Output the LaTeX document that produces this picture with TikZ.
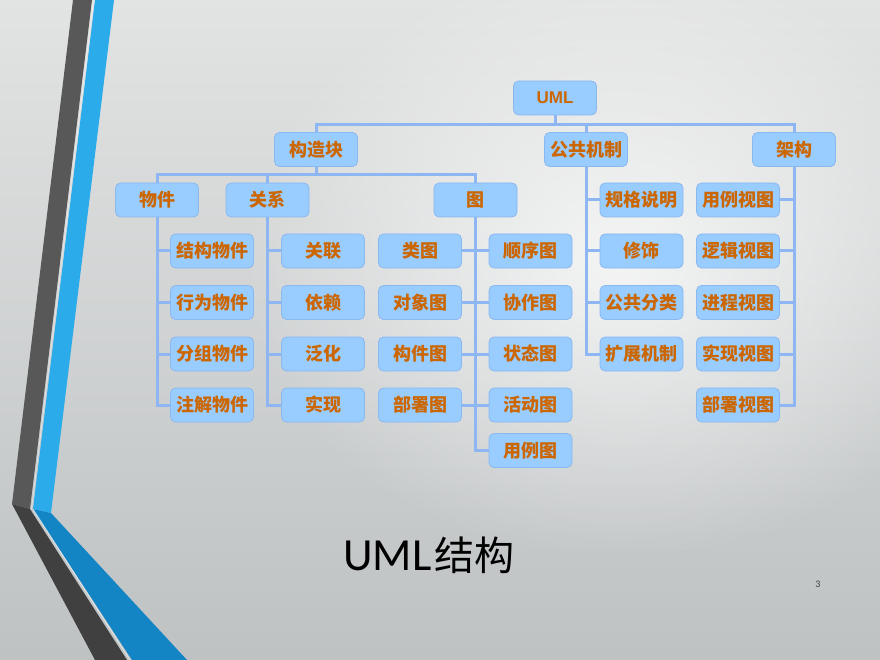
\documentclass[tikz,border=0pt]{standalone}
\usepackage{fontspec}
\setmainfont{Liberation Sans}
\newfontfamily\cjk{Noto Sans CJK SC}
\newfontfamily\carl{Carlito}
\usetikzlibrary{fadings}
\definecolor{boxfill}{RGB}{153,204,255}
\definecolor{boxdraw}{RGB}{138,184,240}
\definecolor{conncol}{RGB}{141,182,243}
\definecolor{txtcol}{RGB}{204,102,0}
\definecolor{bgtop}{RGB}{226,227,227}
\definecolor{bgbot}{RGB}{190,194,195}
\definecolor{darkA}{RGB}{88,88,88}
\definecolor{darkB}{RGB}{64,64,64}
\definecolor{blueA}{RGB}{44,171,235}
\definecolor{blueB}{RGB}{20,133,196}
\tikzfading[name=softglow, inner color=transparent!0, outer color=transparent!100]
\tikzset{
  box/.style={draw=boxdraw, line width=0.8pt, fill=boxfill, rounded corners=5pt,
    minimum width=83pt, minimum height=34pt, inner sep=0pt,
    text=txtcol, font=\cjk\bfseries\fontsize{18}{18}\selectfont},
  conn/.style={draw=conncol, line width=3pt},
}
\begin{document}
\begin{tikzpicture}[x=1pt,y=-1pt]
\useasboundingbox (0,0) rectangle (880,660);
% background
\shade[top color=bgtop, bottom color=bgbot] (0,0) rectangle (880,660);
\fill[white, path fading=softglow, fill opacity=0.75] (620,260) ellipse (380 and 300);
% left decoration
\fill[darkA] (73,0) -- (92,0) -- (30,509) -- (12,504) -- cycle;
\fill[darkB] (12,504) -- (30,509) -- (127,660) -- (95,660) -- cycle;
\fill[blueA] (95,0) -- (114,0) -- (51,513) -- (33,509) -- cycle;
\fill[blueB] (33,509) -- (51,513) -- (187,660) -- (132,660) -- cycle;
\draw[white, opacity=0.6, line width=0.8pt] (33,509) -- (130,660);
\draw[white, opacity=0.5, line width=0.6pt] (93.5,0) -- (31.5,509);

% nodes
\node[box, font=\bfseries\fontsize{17}{17}\selectfont] (uml) at (555,98) {UML};
\node[box] (ck) at (316,149.5) {构造块};
\node[box] (gg) at (586,149.5) {公共机制};
\node[box] (jg) at (794,149.5) {架构};

\node[box] (wj) at (157,200) {物件};
\node[box] (gx) at (267.5,200) {关系};
\node[box] (tu) at (475.5,200) {图};

\node[box] (wj1) at (212,251) {结构物件};
\node[box] (wj2) at (212,302.5) {行为物件};
\node[box] (wj3) at (212,354) {分组物件};
\node[box] (wj4) at (212,405) {注解物件};

\node[box] (gx1) at (323,251) {关联};
\node[box] (gx2) at (323,302.5) {依赖};
\node[box] (gx3) at (323,354) {泛化};
\node[box] (gx4) at (323,405) {实现};

\node[box] (tl1) at (420,251) {类图};
\node[box] (tl2) at (420,302.5) {对象图};
\node[box] (tl3) at (420,354) {构件图};
\node[box] (tl4) at (420,405) {部署图};

\node[box] (tr1) at (530.5,251) {顺序图};
\node[box] (tr2) at (530.5,302.5) {协作图};
\node[box] (tr3) at (530.5,354) {状态图};
\node[box] (tr4) at (530.5,405) {活动图};
\node[box] (tr5) at (530.5,450.5) {用例图};

\node[box] (gg1) at (641.5,200) {规格说明};
\node[box] (gg2) at (641.5,251) {修饰};
\node[box] (gg3) at (641.5,302.5) {公共分类};
\node[box] (gg4) at (641.5,354) {扩展机制};

\node[box] (jg1) at (738,200) {用例视图};
\node[box] (jg2) at (738,251) {逻辑视图};
\node[box] (jg3) at (738,302.5) {进程视图};
\node[box] (jg4) at (738,354) {实现视图};
\node[box] (jg5) at (738,405) {部署视图};

% connectors
\foreach \c in {ck,gg,jg}
  \draw[conn] (uml.south) -- ++(0,9) -| (\c.north);
\foreach \c in {wj,gx,tu}
  \draw[conn] (ck.south) -- ++(0,8) -| (\c.north);
\foreach \c in {wj1,wj2,wj3,wj4}
  \draw[conn] (wj.south) |- (\c.west);
\foreach \c in {gx1,gx2,gx3,gx4}
  \draw[conn] (gx.south) |- (\c.west);
\foreach \c in {tl1,tl2,tl3,tl4}
  \draw[conn] (tu.south) |- (\c.east);
\foreach \c in {tr1,tr2,tr3,tr4,tr5}
  \draw[conn] (tu.south) |- (\c.west);
\foreach \c in {gg1,gg2,gg3,gg4}
  \draw[conn] (gg.south) |- (\c.west);
\foreach \c in {jg1,jg2,jg3,jg4,jg5}
  \draw[conn] (jg.south) |- (\c.east);

% title
\node[anchor=base west, inner sep=0pt, text=black] (title) at (343,570)
  {{\carl\fontsize{46}{46}\selectfont UML}\hspace{3pt}{\cjk\fontsize{40}{40}\selectfont 结构}};
\node[anchor=base, inner sep=0pt, text=black!75, font=\carl\fontsize{10}{10}\selectfont] (pg) at (818,587) {3};
\end{tikzpicture}
\end{document}
